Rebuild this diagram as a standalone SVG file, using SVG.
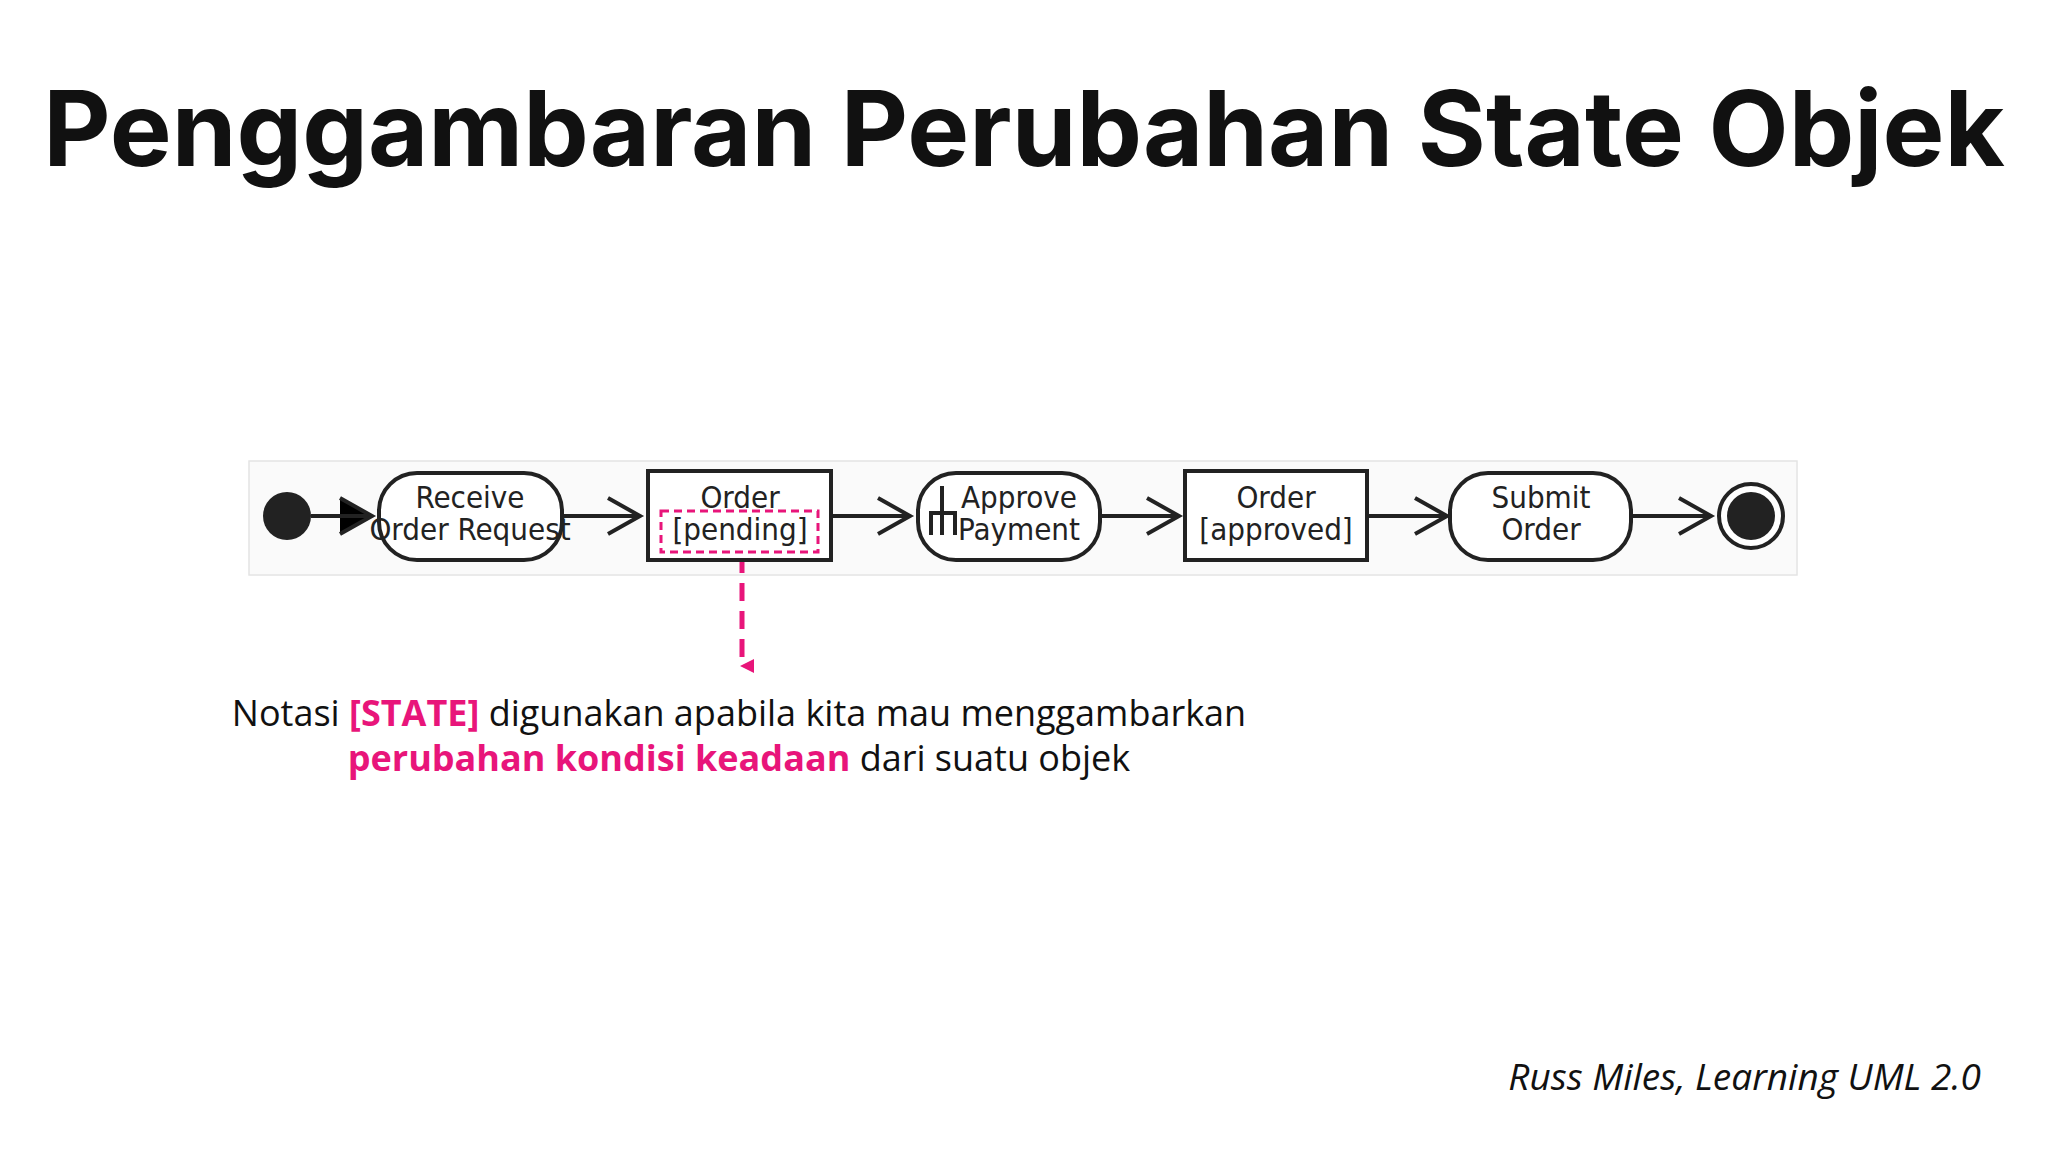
<svg xmlns="http://www.w3.org/2000/svg" width="2048" height="1152" viewBox="0 0 2048 1152">
<style>
.t{font-family:"Liberation Sans Narrow","DejaVu Sans Condensed","Liberation Sans",sans-serif;font-size:31px;fill:#222;text-anchor:middle;font-stretch:condensed}
.n{fill:#fff;stroke:#222;stroke-width:4}
.c{stroke:#222;stroke-width:4;fill:none}
.b{font-family:"Open Sans","Liberation Sans",sans-serif;font-size:36px;fill:#111}
.p{fill:#e8157a;font-weight:bold}
</style>
<defs>
<marker id="v" markerWidth="16" markerHeight="16" refX="14" refY="8" orient="auto" markerUnits="userSpaceOnUse" viewBox="0 0 16 16" overflow="visible">
<path d="M-30,-16 L14,8 L-30,32" fill="none" stroke="#222" stroke-width="4" transform="translate(0,0) scale(1)"/>
</marker>
<marker id="pk" markerWidth="14" markerHeight="14" refX="7" refY="12" orient="auto-start-reverse" viewBox="0 0 14 14" markerUnits="userSpaceOnUse">
<path d="M0,0 L14,0 L7,14 Z" fill="#e8157a"/>
</marker>
</defs>
<rect width="2048" height="1152" fill="#fff"/>
<text x="1024" y="166" font-family="Inter,'Open Sans',sans-serif" font-weight="bold" font-size="104" text-anchor="middle" fill="#111">Penggambaran Perubahan State Objek</text>
<rect x="249" y="461" width="1548" height="114" fill="#fafafa" stroke="#e4e4e4" stroke-width="1.5"/>
<g id="connectors">
<path d="M311,516 H372 M340,498 L372,516 L340,534"/>
<path class="c" d="M311,516 H372 M340,498 L372,516 L340,534 M562,516 H640 M608,498 L640,516 L608,534 M831,516 H910 M878,498 L910,516 L878,534 M1100,516 H1179 M1147,498 L1179,516 L1147,534 M1367,516 H1447 M1415,498 L1447,516 L1415,534 M1631,516 H1711 M1679,498 L1711,516 L1679,534"/>
<line x1="742" y1="555" x2="742" y2="666" stroke="#e8157a" stroke-width="5" stroke-dasharray="18,10" marker-end="url(#pk)"/>
</g>
<g id="start"><circle cx="287" cy="516" r="24" fill="#222"/></g>
<g id="receive"><rect class="n" x="379" y="473" width="183" height="87" rx="38"/><text class="t" x="470" y="508">Receive</text><text class="t" x="470" y="540">Order Request</text></g>
<g id="order-pending"><rect class="n" x="648" y="471" width="183" height="89" stroke-width="5"/><text class="t" x="740" y="508">Order</text><text class="t" x="740" y="540">[pending]</text><rect x="661" y="511" width="157" height="41" fill="none" stroke="#e8157a" stroke-width="3" stroke-dasharray="8,5"/></g>
<g id="approve"><rect class="n" x="918" y="473" width="182" height="87" rx="38"/><path class="c" stroke-width="3" d="M942,486 V535 M931,535 V513 H955 V535"/><text class="t" x="1019" y="508">Approve</text><text class="t" x="1019" y="540">Payment</text></g>
<g id="order-approved"><rect class="n" x="1185" y="471" width="182" height="89" stroke-width="5"/><text class="t" x="1276" y="508">Order</text><text class="t" x="1276" y="540">[approved]</text></g>
<g id="submit"><rect class="n" x="1450" y="473" width="181" height="87" rx="38"/><text class="t" x="1541" y="508">Submit</text><text class="t" x="1541" y="540">Order</text></g>
<g id="end"><circle cx="1751" cy="516" r="32" fill="#fff" stroke="#222" stroke-width="4"/><circle cx="1751" cy="516" r="24" fill="#222"/></g>
<text class="b" x="739" y="726" text-anchor="middle">Notasi <tspan class="p">[STATE]</tspan> digunakan apabila kita mau menggambarkan</text>
<text class="b" x="739" y="771" text-anchor="middle"><tspan class="p">perubahan kondisi keadaan</tspan> dari suatu objek</text>
<text x="1981" y="1090" text-anchor="end" font-family="'Open Sans','Liberation Sans',sans-serif" font-style="italic" font-size="37" fill="#111">Russ Miles, Learning UML 2.0</text>
</svg>
